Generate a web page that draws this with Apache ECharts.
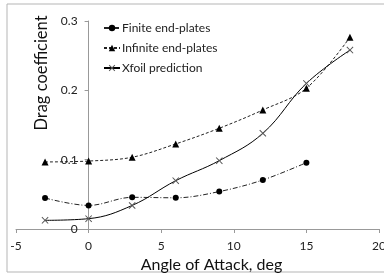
<!DOCTYPE html>
<html><head><meta charset="utf-8">
<script src="https://cdn.jsdelivr.net/npm/echarts@6/dist/echarts.min.js"></script>
<style>html,body{margin:0;padding:0;background:#fff}#c{width:384px;height:276px}</style>
</head><body><div id="c"></div>
<script>
const angles = [-3, 0, 3, 6, 9, 12, 15, 18];
const finite = [0.0447, 0.034, 0.0457, 0.045, 0.054, 0.0707, 0.0957, null];
const infinite = [0.0967, 0.098, 0.1035, 0.1227, 0.1453, 0.1717, 0.203, 0.2766];
const xfoil = [0.0125, 0.0149, 0.034, 0.0697, 0.0986, 0.138, 0.210, 0.258];
const names = ['Finite end-plates', 'Infinite end-plates', 'Xfoil prediction'];

const pair = arr => angles.map((a, i) => [a, arr[i]]).filter(p => p[1] != null);
const crossPath = 'path://M0,1L1,0L5,4L9,0L10,1L6,5L10,9L9,10L5,6L1,10L0,9L4,5Z';
const font = 'Lato, "Open Sans", sans-serif';

const gridLeft = 16, gridRight = 5, W = 384;
const plotW = W - gridLeft - gridRight;
const xMin = -5, xMax = 20;
const yAxisOffset = -plotW * (0 - xMin) / (xMax - xMin);

const chart = echarts.init(document.getElementById('c'), null, {renderer: 'canvas'});
chart.setOption({
  animation: false,
  textStyle: {fontFamily: font},
  graphic: [{type: 'rect', shape: {x: 7, y: 4, width: 390, height: 268},
    style: {fill: 'none', stroke: '#b5b5b5', lineWidth: 1}, silent: true, z: -1}],
  grid: {left: gridLeft, right: gridRight, top: 21, bottom: 47, containLabel: false, outerBoundsMode: 'none'},
  legend: {
    orient: 'vertical', left: 98, top: 17, itemGap: 8, itemWidth: 16, itemHeight: 8,
    textStyle: {fontFamily: font, fontSize: 12, color: '#222', padding: [0, 0, 0, -3]},
    data: names
  },
  xAxis: {
    type: 'value', min: xMin, max: xMax, interval: 5,
    name: 'Angle of Attack, deg', nameLocation: 'middle', nameGap: 27,
    nameTextStyle: {fontSize: 16, color: '#111', padding: [0, 0, 0, 28], fontFamily: font},
    axisLine: {onZero: false, lineStyle: {color: '#999'}},
    axisTick: {show: true, length: 4, lineStyle: {color: '#999'}},
    axisLabel: {fontSize: 12, color: '#222', margin: 11},
    splitLine: {show: false}
  },
  yAxis: {
    type: 'value', min: 0, max: 0.3, interval: 0.1, offset: yAxisOffset,
    name: 'Drag coefficient', nameLocation: 'middle', nameGap: 23,
    nameTextStyle: {fontSize: 16.5, color: '#111', padding: [0, 0, 0, 104], fontFamily: font},
    axisLine: {onZero: false, lineStyle: {color: '#999'}},
    axisTick: {show: true, length: 4, lineStyle: {color: '#999'}},
    axisLabel: {fontSize: 12, color: '#222', margin: 11},
    splitLine: {show: false}
  },
  series: [
    {name: names[0], type: 'line', data: pair(finite), smooth: 0.35,
     symbol: 'circle', symbolSize: 6,
     itemStyle: {color: '#000'},
     lineStyle: {color: '#222', width: 1, type: [5, 2, 1, 2]}},
    {name: names[1], type: 'line', data: pair(infinite), smooth: 0.35,
     symbol: 'triangle', symbolSize: 7,
     itemStyle: {color: '#000'},
     lineStyle: {color: '#222', width: 1, type: [3, 2]}},
    {name: names[2], type: 'line', data: pair(xfoil), smooth: 0.4,
     symbol: crossPath, symbolSize: 7,
     itemStyle: {color: '#555'},
     lineStyle: {color: '#000', width: 1, type: 'solid'}}
  ]
});
</script></body></html>
